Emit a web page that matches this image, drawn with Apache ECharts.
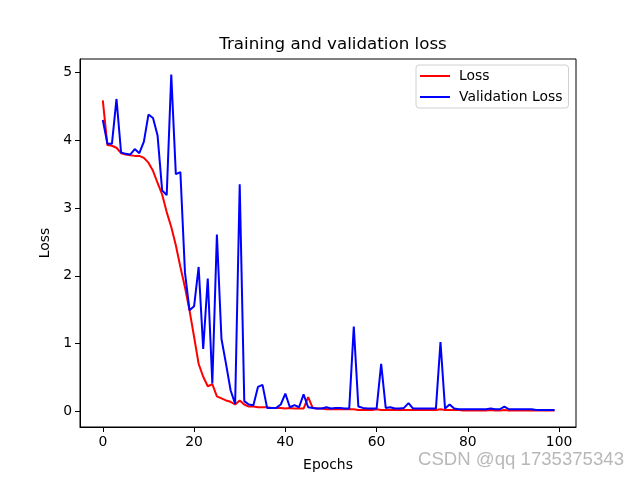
<!DOCTYPE html>
<html>
<head>
<meta charset="utf-8">
<script src="https://cdn.jsdelivr.net/npm/echarts@6/dist/echarts.min.js"></script>
<style>
  html, body { margin: 0; padding: 0; background: #fff; }
  #container { width: 640px; height: 480px; }
</style>
</head>
<body>
<div id="container"></div>
<script>
var lossValues = [
    4.59, 3.93, 3.92, 3.89, 3.81, 3.79, 3.78, 3.77, 3.77, 3.74,
    3.67, 3.55, 3.37, 3.20, 2.94, 2.72, 2.45, 2.13, 1.83, 1.49,
    1.10, 0.70, 0.51, 0.37, 0.40, 0.22, 0.19, 0.16, 0.14, 0.10,
    0.16, 0.10, 0.07, 0.07, 0.06, 0.06, 0.06, 0.05, 0.05, 0.05,
    0.04, 0.05, 0.04, 0.04, 0.04, 0.21, 0.05, 0.04, 0.04, 0.03,
    0.03, 0.03, 0.03, 0.03, 0.03, 0.03, 0.02, 0.02, 0.02, 0.02,
    0.03, 0.02, 0.02, 0.02, 0.02, 0.02, 0.02, 0.02, 0.02, 0.02,
    0.02, 0.02, 0.02, 0.02, 0.03, 0.02, 0.02, 0.02, 0.02, 0.01,
    0.01, 0.01, 0.01, 0.01, 0.01, 0.02, 0.01, 0.01, 0.02, 0.01,
    0.01, 0.01, 0.01, 0.01, 0.01, 0.01, 0.01, 0.01, 0.01, 0.01
];
var valLossValues = [
    4.30, 3.95, 3.95, 4.61, 3.82, 3.80, 3.79, 3.87, 3.81, 3.98,
    4.38, 4.33, 4.07, 3.26, 3.19, 4.97, 3.50, 3.53, 2.05, 1.49,
    1.55, 2.13, 0.92, 1.96, 0.41, 2.61, 1.07, 0.70, 0.31, 0.11,
    3.35, 0.15, 0.10, 0.09, 0.36, 0.39, 0.05, 0.05, 0.05, 0.10,
    0.26, 0.06, 0.09, 0.06, 0.25, 0.06, 0.05, 0.04, 0.04, 0.06,
    0.04, 0.05, 0.05, 0.04, 0.04, 1.25, 0.07, 0.05, 0.04, 0.04,
    0.04, 0.70, 0.05, 0.06, 0.04, 0.04, 0.05, 0.12, 0.04, 0.04,
    0.04, 0.04, 0.04, 0.04, 1.02, 0.04, 0.10, 0.04, 0.03, 0.03,
    0.03, 0.03, 0.03, 0.03, 0.03, 0.04, 0.03, 0.03, 0.07, 0.03,
    0.03, 0.03, 0.03, 0.03, 0.03, 0.02, 0.02, 0.02, 0.02, 0.02
];
var xTicks = [0, 20, 40, 60, 80, 100];
var yTicks = [0, 1, 2, 3, 4, 5];

var epochs = lossValues.map(function (v, i) { return i; });

function pairs(values) {
    return values.map(function (v, i) { return [epochs[i], v]; });
}

var font = 'DejaVu Sans';
var myChart = echarts.init(document.getElementById('container'), null, { renderer: 'canvas' });

var option = {
    animation: false,
    backgroundColor: '#fff',
    title: {
        text: 'Training and validation loss',
        left: 328,
        top: 31,
        textAlign: 'center',
        textStyle: { fontFamily: font, fontSize: 16.7, fontWeight: 'normal', color: '#000' }
    },
    legend: {
        orient: 'vertical',
        left: 416,
        top: 65,
        padding: [4, 6, 4, 4],
        itemGap: 7,
        itemWidth: 30,
        itemHeight: 2,
        icon: 'rect',
        borderColor: '#d0d0d0',
        borderWidth: 1,
        borderRadius: 3,
        backgroundColor: 'rgba(255,255,255,0.8)',
        textStyle: { fontFamily: font, fontSize: 13.9, color: '#000', padding: [0, 0, 0, 4] },
        data: ['Loss', 'Validation Loss']
    },
    grid: {
        left: 80, right: 64, top: 59, bottom: 53,
        show: true, borderColor: '#000', borderWidth: 1,
        backgroundColor: 'transparent'
    },
    xAxis: {
        type: 'value',
        min: -5.0,
        max: 103.7,
        name: 'Epochs',
        nameLocation: 'middle',
        nameGap: 31,
        nameTextStyle: { fontFamily: font, fontSize: 13.9, color: '#000' },
        splitLine: { show: false },
        axisLine: { show: true, onZero: false, lineStyle: { color: '#000', width: 1 } },
        axisTick: { show: true, length: 5, lineStyle: { color: '#000' }, customValues: xTicks },
        axisLabel: { fontFamily: font, fontSize: 13.9, color: '#000', margin: 8, customValues: xTicks }
    },
    yAxis: {
        type: 'value',
        min: -0.232,
        max: 5.2,
        name: 'Loss',
        nameLocation: 'middle',
        nameGap: 25,
        nameTextStyle: { fontFamily: font, fontSize: 13.9, color: '#000' },
        splitLine: { show: false },
        axisLine: { show: true, onZero: false, lineStyle: { color: '#000', width: 1 } },
        axisTick: { show: true, length: 5, lineStyle: { color: '#000' }, customValues: yTicks },
        axisLabel: { fontFamily: font, fontSize: 13.9, color: '#000', margin: 8, customValues: yTicks }
    },
    graphic: [{
        type: 'text',
        left: 418,
        top: 450,
        style: {
            text: 'CSDN @qq 1735375343',
            font: '18.6px "Liberation Sans"',
            fill: '#b8b8b8'
        }
    }],
    series: [
        {
            name: 'Loss',
            type: 'line',
            data: pairs(lossValues),
            showSymbol: false,
            color: '#ff0000',
            lineStyle: { color: '#ff0000', width: 2 }
        },
        {
            name: 'Validation Loss',
            type: 'line',
            data: pairs(valLossValues),
            showSymbol: false,
            color: '#0000ff',
            lineStyle: { color: '#0000ff', width: 2 }
        }
    ]
};
myChart.setOption(option, true);
</script>
</body>
</html>
